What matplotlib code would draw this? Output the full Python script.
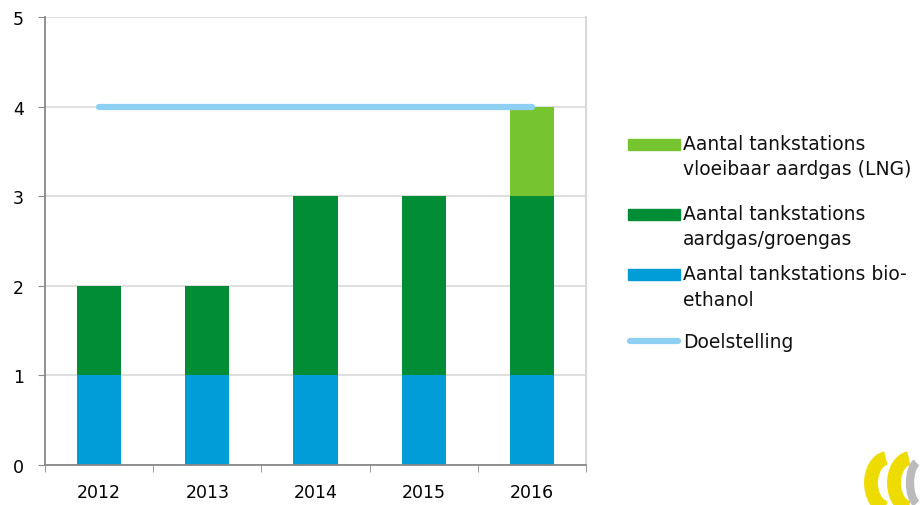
import matplotlib
matplotlib.use("Agg")
import matplotlib.pyplot as plt
from matplotlib.patches import Rectangle, Arc
from matplotlib.lines import Line2D
import numpy as np

years = ["2012", "2013", "2014", "2015", "2016"]
bioethanol = [1, 1, 1, 1, 1]
aardgas = [1, 1, 2, 2, 2]
lng = [0, 0, 0, 0, 1]
doel = [4, 4, 4, 4, 4]

labels = ["Aantal tankstations\nvloeibaar aardgas (LNG)",
          "Aantal tankstations\naardgas/groengas",
          "Aantal tankstations bio-\nethanol",
          "Doelstelling"]

c_bio = "#009DD9"
c_gas = "#008D36"
c_lng = "#76C530"
c_doel = "#8ECFF4"

W, H = 924, 506
plt.rcParams['font.family'] = ['DejaVu Sans']
fig = plt.figure(figsize=(W / 100, H / 100), dpi=100)
ax = fig.add_axes([45 / W, 40 / H, 541 / W, 448 / H])

x = np.arange(len(years))
w = 0.41
ax.bar(x, bioethanol, w, color=c_bio, zorder=2)
ax.bar(x, aardgas, w, bottom=bioethanol, color=c_gas, zorder=2)
b2 = np.array(bioethanol) + np.array(aardgas)
ax.bar(x, lng, w, bottom=b2, color=c_lng, zorder=2)
ax.plot(x, doel, color=c_doel, lw=4.5, solid_capstyle='round', zorder=3)

ax.set_xlim(-0.5, len(years) - 0.5)
ax.set_ylim(0, 5)
ax.set_yticks(range(6))
ax.set_xticks(x)
ax.set_xticklabels(years)
ax.set_xticks(np.arange(-0.5, len(years), 1), minor=True)
ax.tick_params(axis='x', which='major', length=0, pad=13, labelsize=12.5)
ax.tick_params(axis='x', which='minor', length=5, color='#888888')
ax.tick_params(axis='y', length=5, color='#888888', labelsize=12.5, pad=10)
ax.grid(axis='y', color='#D9D9D9', lw=1.2, zorder=0)
ax.spines['top'].set_visible(False)
ax.spines['right'].set_color('#D9D9D9')
ax.spines['right'].set_linewidth(1.5)
for s in ['left', 'bottom']:
    ax.spines[s].set_color('#888888')
    ax.spines[s].set_linewidth(1.3)

# manual legend (pixel layout), handles aligned with first text line
colors = [c_lng, c_gas, c_bio]
first_line_y = [143, 213, 273, 341]
line_gap = 25
for i, lab in enumerate(labels):
    yc = first_line_y[i]
    if i < 3:
        fig.add_artist(Rectangle((628 / W, (H - yc - 7.5) / H), 52 / W, 11 / H,
                                 transform=fig.transFigure, color=colors[i]))
    else:
        fig.add_artist(Line2D([630 / W, 678 / W], [(H - yc - 1) / H] * 2,
                              transform=fig.transFigure, color=c_doel, lw=4.5,
                              solid_capstyle='round'))
    for j, line in enumerate(lab.split("\n")):
        fig.text(683 / W, (H - yc - j * line_gap) / H, line, fontsize=13.5,
                 va='center_baseline', ha='left', color='#111111')

# small logo fragment at bottom right
lax = fig.add_axes([856 / W, 0, 68 / W, 60 / H])
lax.set_xlim(0, 68)
lax.set_ylim(0, 60)
lax.axis('off')
lax.add_patch(Arc((32, 22), 34, 50, theta1=95, theta2=265, lw=10, color='#EEDC00'))
lax.add_patch(Arc((55, 22), 34, 50, theta1=95, theta2=265, lw=10, color='#EEDC00'))
lax.add_patch(Arc((64, 22), 20, 44, theta1=100, theta2=260, lw=6, color='#BBBBBB'))

fig.savefig("out.png", dpi=100)
